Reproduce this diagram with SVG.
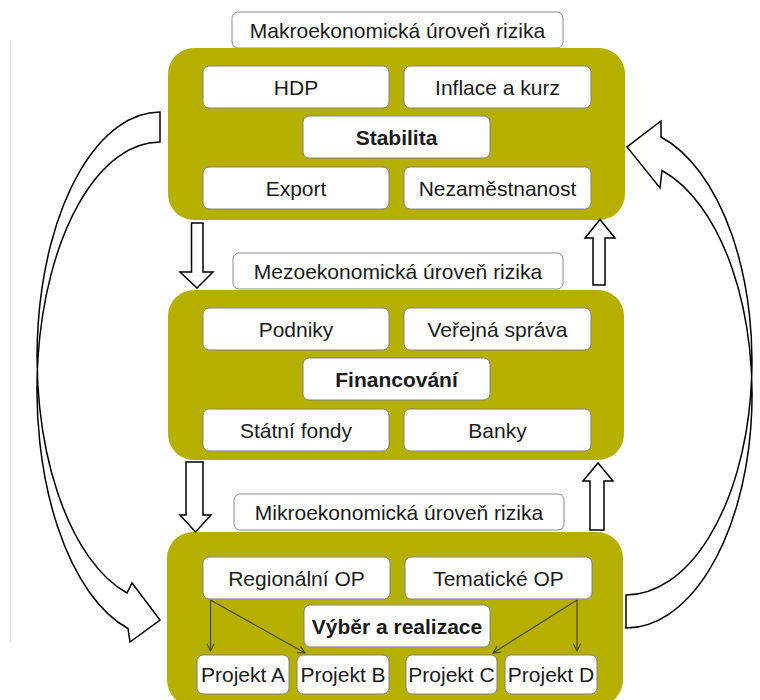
<svg xmlns="http://www.w3.org/2000/svg" width="760" height="700" viewBox="0 0 760 700">
<defs>
<style>
.lvl{fill:#b5b000;stroke:none}
.box{fill:#ffffff;stroke:#808080;stroke-width:1}
.ttl{fill:#ffffff;stroke:#8a8a8a;stroke-width:1}
.t{font-family:"Liberation Sans",Arial,sans-serif;font-size:21px;fill:#1a1a1a;text-anchor:middle}
.b{font-weight:bold}
.blk{fill:#ffffff;stroke:#000000;stroke-width:1.5;stroke-linejoin:miter}
.thin{fill:none;stroke:#4d4a1c;stroke-width:1.2;marker-end:url(#v)}
</style>
<marker id="v" viewBox="0 0 10 10" refX="9" refY="5" markerWidth="9" markerHeight="9" markerUnits="userSpaceOnUse" orient="auto">
<path d="M1,1 L9,5 L1,9" fill="none" stroke="#4d4a1c" stroke-width="1.2"/>
</marker>
</defs>
<rect width="760" height="700" fill="#ffffff"/>
<line x1="10.5" y1="40" x2="10.5" y2="643" stroke="#e2e7f0" stroke-width="1"/>

<g id="makro">
<rect class="ttl" x="232" y="12" width="331" height="36" rx="6"/>
<text class="t" x="397.5" y="37.5">Makroekonomická úroveň rizika</text>
<rect class="lvl" x="168" y="48" width="457" height="172" rx="26"/>
<g id="hdp"><rect class="box" x="203" y="66" width="186" height="42" rx="6"/><text class="t" x="296" y="94.5">HDP</text></g>
<g id="inflace"><rect class="box" x="404" y="66" width="187" height="42" rx="6"/><text class="t" x="497.5" y="94.5">Inflace a kurz</text></g>
<g id="stabilita"><rect class="box" x="303" y="116" width="187" height="42" rx="6"/><text class="t b" x="396.5" y="144.5">Stabilita</text></g>
<g id="export"><rect class="box" x="203" y="167" width="186" height="42" rx="6"/><text class="t" x="296" y="195.5">Export</text></g>
<g id="nezam"><rect class="box" x="404" y="167" width="187" height="42" rx="6"/><text class="t" x="497.5" y="195.5">Nezaměstnanost</text></g>
</g>

<g id="mezo">
<rect class="ttl" x="233" y="253" width="330" height="36" rx="6"/>
<text class="t" x="398" y="278.5">Mezoekonomická úroveň rizika</text>
<rect class="lvl" x="168" y="290" width="456" height="170" rx="26"/>
<g id="podniky"><rect class="box" x="203" y="308" width="186" height="42" rx="6"/><text class="t" x="296" y="336.5">Podniky</text></g>
<g id="verejna"><rect class="box" x="404" y="308" width="187" height="42" rx="6"/><text class="t" x="497.5" y="336.5">Veřejná správa</text></g>
<g id="financovani"><rect class="box" x="303" y="358" width="187" height="42" rx="6"/><text class="t b" x="396.5" y="386.5">Financování</text></g>
<g id="statni"><rect class="box" x="203" y="409" width="186" height="42" rx="6"/><text class="t" x="296" y="437.5">Státní fondy</text></g>
<g id="banky"><rect class="box" x="404" y="409" width="187" height="42" rx="6"/><text class="t" x="497.5" y="437.5">Banky</text></g>
</g>

<g id="mikro">
<rect class="ttl" x="234" y="494" width="330" height="36" rx="6"/>
<text class="t" x="399" y="519.5">Mikroekonomická úroveň rizika</text>
<rect class="lvl" x="167" y="532" width="456" height="174" rx="26"/>
<g id="regionalni"><rect class="box" x="203" y="557" width="187" height="42" rx="6"/><text class="t" x="296.5" y="585.5">Regionální OP</text></g>
<g id="tematicke"><rect class="box" x="405" y="557" width="187" height="42" rx="6"/><text class="t" x="498.5" y="585.5">Tematické OP</text></g>
<g id="vyber"><rect class="box" x="304" y="605" width="186" height="42" rx="6"/><text class="t b" x="397" y="633.5">Výběr a realizace</text></g>
<g id="projA"><rect class="box" x="197" y="655" width="92" height="39" rx="6"/><text class="t" x="243" y="682">Projekt A</text></g>
<g id="projB"><rect class="box" x="297" y="655" width="92" height="39" rx="6"/><text class="t" x="343" y="682">Projekt B</text></g>
<g id="projC"><rect class="box" x="406" y="655" width="91" height="39" rx="6"/><text class="t" x="451.5" y="682">Projekt C</text></g>
<g id="projD"><rect class="box" x="505" y="655" width="92" height="39" rx="6"/><text class="t" x="551" y="682">Projekt D</text></g>
</g>

<g id="connectors">
<path class="thin" d="M210.5,600 L210.5,651"/>
<path class="thin" d="M210.5,600 L305,653"/>
<path class="thin" d="M577,600 L577,651"/>
<path class="thin" d="M577,600 L493,653"/>
<path class="blk" d="M191.5,223 L203,223 L203,272 L213,272 L197,288 L180,272 L191.5,272 Z"/>
<path class="blk" d="M593,285 L605,285 L605,238 L615,238 L600,219.5 L585,238 L593,238 Z"/>
<path class="blk" d="M186,462 L203,462 L203,515 L211,515 L195.5,532 L180,515 L186,515 Z"/>
<path class="blk" d="M590,530 L604,530 L604,481 L613,481 L598,463 L583,481 L590,481 Z"/>
<path class="blk" d="M160,112 A123 245 0 0 0 127,593 L132,583 L160,620 L130,642 L128,628.5 A123 247.5 0 0 1 160,142 Z"/>
<path class="blk" d="M626,595 A126 233.6 0 0 0 661,137 L661,121 L627,147 L660,188 L662,170.5 A126 233.6 0 0 1 626,628 Z"/>
</g>
</svg>
